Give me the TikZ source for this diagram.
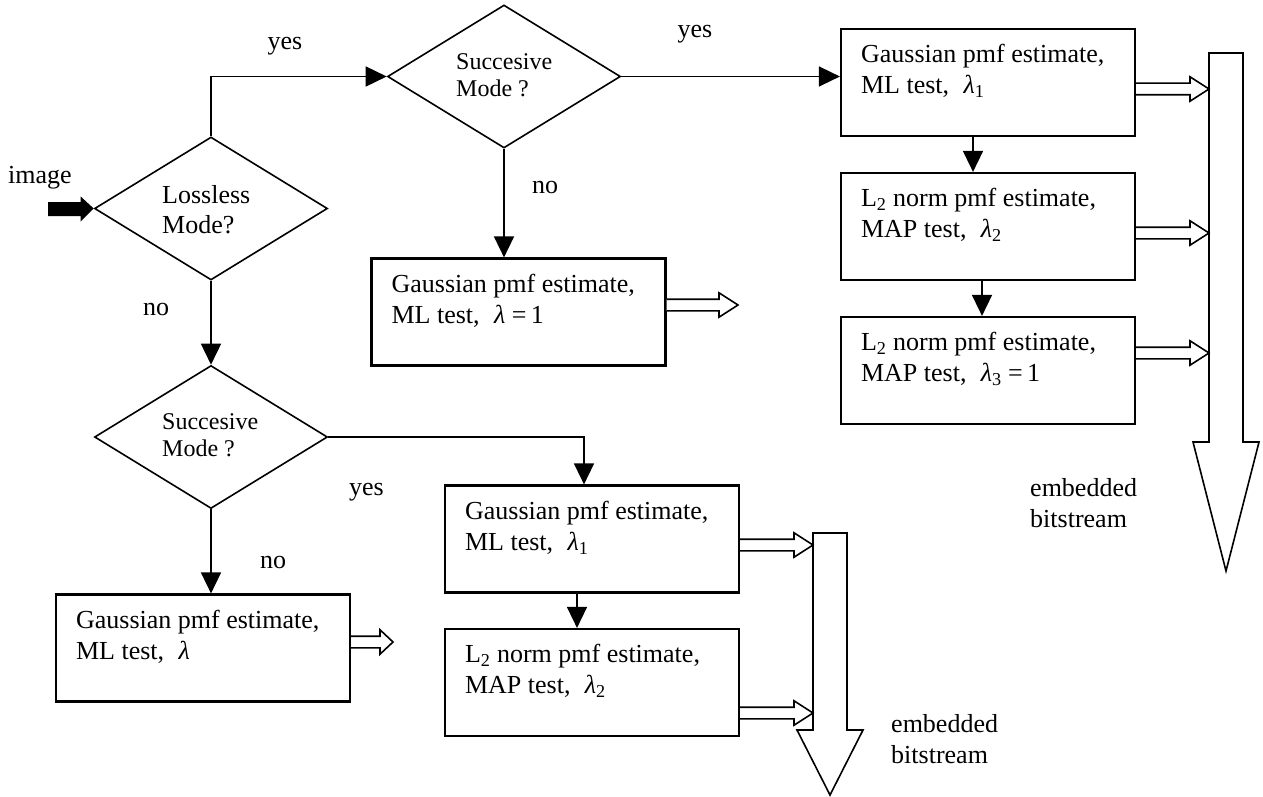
\documentclass[tikz,border=0pt]{standalone}
\usepackage{fontspec}
\setmainfont{Liberation Serif}
\usetikzlibrary{shapes.geometric,arrows.meta,calc}
\newcommand\myhollow[3]{%
  \draw[harrow] let \p1=(#1), \p2=(#2) in
    (\x1,\y1+5.8pt) -- (\x2-#3,\y1+5.8pt) -- (\x2-#3,\y1+12.2pt) -- (\x2,\y1)
    -- (\x2-#3,\y1-12.2pt) -- (\x2-#3,\y1-5.8pt) -- (\x1,\y1-5.8pt);}
\begin{document}
\begin{tikzpicture}[x=1pt,y=-1pt,
  box/.style={draw,line width=2.2pt,rectangle,minimum width=294pt,minimum height=107pt,inner sep=0pt},
  dmd/.style={draw,line width=1.6pt,diamond,minimum width=233pt,minimum height=143pt,inner sep=0pt},
  txt/.style={inner sep=0pt,align=left,font=\fontsize{26}{31}\selectfont},
  dtxt/.style={inner sep=0pt,align=left,font=\fontsize{24}{27}\selectfont},
  arr/.style={line width=1.6pt,-{Triangle[length=21pt,width=20pt]}},
  harrow/.style={line width=1.6pt,fill=white,line join=miter},
  bigarrow/.style={draw,line width=1.6pt,fill=white,line join=miter}]
\useasboundingbox (0,0) rectangle (1263,797);

% decisions
\node[dmd] (d1) at (211,208.5) {};
\node[dmd] (d2) at (504,76.5) {};
\node[dmd] (d3) at (211,437) {};
\node[txt,anchor=base west,font=\fontsize{26}{30}\selectfont] (d1t) at (162,233) {Lossless\\Mode?};
\node[dtxt,anchor=base west] (d2t) at (456,97) {Succesive\\Mode ?};
\node[dtxt,anchor=base west] (d3t) at (162,456) {Succesive\\Mode ?};

% boxes
\node[box] (B1) at (988,82.5) {};
\node[box] (B2) at (988,226.5) {};
\node[box] (B3) at (988,370.5) {};
\node[box] (BM) at (518.5,312) {};
\node[box] (BL) at (203,648) {};
\node[box] (BA) at (592,539) {};
\node[box] (BB) at (592,682.5) {};

\tikzset{btxt/.style={txt,anchor=base west}}
\node[btxt] (B1t) at ([xshift=21pt,yshift=-66pt]B1.north west) {Gaussian pmf estimate,\\ML test,\hspace{0.55em}\textit{λ}\textsubscript{1}};
\node[btxt] (B2t) at ([xshift=21pt,yshift=-66pt]B2.north west) {L\textsubscript{2} norm pmf estimate,\\MAP test,\hspace{0.55em}\textit{λ}\textsubscript{2}};
\node[btxt] (B3t) at ([xshift=21pt,yshift=-66pt]B3.north west) {L\textsubscript{2} norm pmf estimate,\\MAP test,\hspace{0.55em}\textit{λ}\textsubscript{3} =\,1};
\node[btxt] (BMt) at ([xshift=21pt,yshift=-66pt]BM.north west) {Gaussian pmf estimate,\\ML test,\hspace{0.55em}\textit{λ} =\,1};
\node[btxt] (BLt) at ([xshift=21pt,yshift=-66pt]BL.north west) {Gaussian pmf estimate,\\ML test,\hspace{0.55em}\textit{λ}};
\node[btxt] (BAt) at ([xshift=21pt,yshift=-66pt]BA.north west) {Gaussian pmf estimate,\\ML test,\hspace{0.55em}\textit{λ}\textsubscript{1}};
\node[btxt] (BBt) at ([xshift=21pt,yshift=-66pt]BB.north west) {L\textsubscript{2} norm pmf estimate,\\MAP test,\hspace{0.55em}\textit{λ}\textsubscript{2}};

% labels
\node[txt,anchor=base west] (limg) at (8,183) {image};
\node[txt,anchor=base] (lyes1) at (285,50) {yes};
\node[txt,anchor=base] (lyes2) at (695,38) {yes};
\node[txt,anchor=base west] (lno1) at (532,193) {no};
\node[txt,anchor=base west] (lno2) at (143,315) {no};
\node[txt,anchor=base west] (lyes3) at (349,495) {yes};
\node[txt,anchor=base west] (lno3) at (260,568) {no};
\node[txt,anchor=base west] (lemb1) at (1030,527) {embedded\\bitstream};
\node[txt,anchor=base west] (lemb2) at (891,763) {embedded\\bitstream};

% image input arrow
\coordinate (imgtail) at (48,209);
\fill let \p1=(imgtail), \p2=(d1.west) in
  (\x1,\y1+7pt) -- (\x2-13pt,\y1+7pt) -- (\x2-13pt,\y1+12.5pt) -- (\x2,\y2)
  -- (\x2-13pt,\y1-12.5pt) -- (\x2-13pt,\y1-7pt) -- (\x1,\y1-7pt) -- cycle;

% connectors
\draw[arr] (d1.north) |- (d2.west);
\draw[arr] (d2.east) -- (d2.east -| B1.west);
\draw[arr] (d2.south) -- (d2.south |- BM.north);
\draw[arr] (d1.south) -- (d3.north);
\draw[arr] (d3.east) -| ([xshift=-8pt]BA.north);
\draw[arr] (d3.south) -- (d3.south |- BL.north);
\draw[arr] ([xshift=-15pt]BA.south) -- ([xshift=-15pt]BB.north);
\draw[arr] ([xshift=-15pt]B1.south) -- ([xshift=-15pt]B2.north);
\draw[arr] ([xshift=-6pt]B2.south) -- ([xshift=-6pt]B3.north);

% big output arrows
\draw[bigarrow] (1209,53) -- (1243,53) -- (1243,442) -- (1259,442) -- (1226,571) -- (1193,442) -- (1209,442) -- cycle;
\draw[bigarrow] (813,533) -- (847,533) -- (847,730) -- (863,730) -- (830,795) -- (797,730) -- (813,730) -- cycle;

% hollow arrows
\coordinate (t1) at (1209,89);
\coordinate (t2) at (1209,233);
\coordinate (t3) at (1209,353);
\coordinate (tM) at (738,305);
\coordinate (tL) at (393,642);
\coordinate (tA) at (813,545);
\coordinate (tB) at (813,713);
\myhollow{B1.east |- t1}{t1}{19pt}
\myhollow{B2.east |- t2}{t2}{19pt}
\myhollow{B3.east |- t3}{t3}{19pt}
\myhollow{BM.east |- tM}{tM}{19pt}
\myhollow{BL.east |- tL}{tL}{13pt}
\myhollow{BA.east |- tA}{tA}{19pt}
\myhollow{BB.east |- tB}{tB}{19pt}
\end{tikzpicture}
\end{document}
